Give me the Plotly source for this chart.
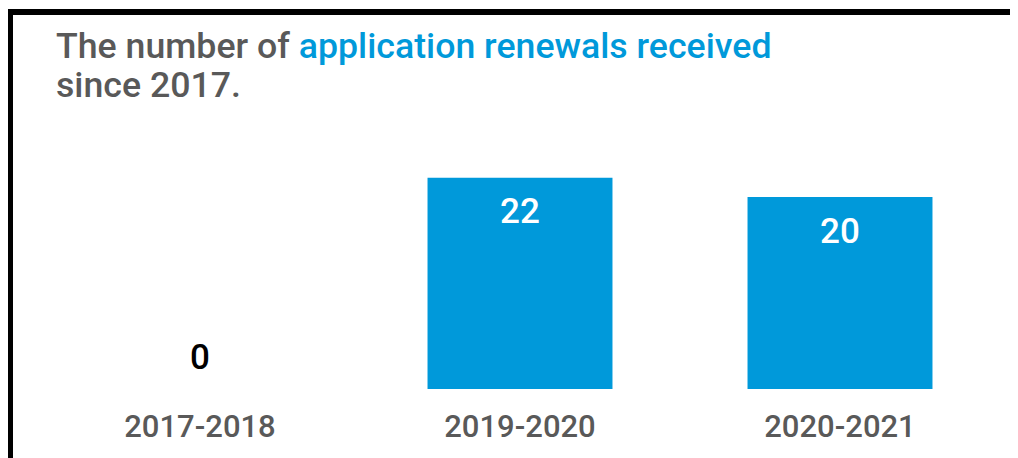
import plotly.graph_objects as go

categories = ["2017-2018", "2019-2020", "2020-2021"]
renewals = [0, 22, 20]
label_colors = ["#000000", "#FFFFFF", "#FFFFFF"]
label_shift = [32, -34, -34]

BLUE = "#0099DA"
GREY = "#595959"
FONT = "Roboto"

fig = go.Figure()
fig.add_trace(go.Bar(
    x=categories, y=renewals,
    marker=dict(color=BLUE, line=dict(width=0)),
    hoverinfo="skip",
))

for c, v, col, sh in zip(categories, renewals, label_colors, label_shift):
    fig.add_annotation(
        x=c, y=v, xref="x", yref="y", text=str(v), showarrow=False,
        yanchor="middle", yshift=sh,
        font=dict(family=FONT, size=35, color=col, weight=500),
    )

fig.add_annotation(
    xref="paper", yref="paper", x=0.0150, y=1.43, xanchor="left", yanchor="middle",
    text="The number of <span style='color:%s'>application renewals received</span>" % BLUE,
    showarrow=False, font=dict(family=FONT, size=35.7, color=GREY, weight=500),
)
fig.add_annotation(
    xref="paper", yref="paper", x=0.0150, y=1.265, xanchor="left", yanchor="middle",
    text="since 2017.",
    showarrow=False, font=dict(family=FONT, size=35.7, color=GREY, weight=500),
)

# frame lines
fig.add_shape(type="line", xref="paper", yref="paper", x0=-0.03125, x1=1.1, y0=1.571, y1=1.571,
              line=dict(color="black", width=6))
fig.add_shape(type="line", xref="paper", yref="paper", x0=-0.03125, x1=-0.03125, y0=1.583, y1=-0.4,
              line=dict(color="black", width=6))

fig.update_layout(
    width=1010, height=450,
    margin=dict(l=32, r=18, t=141, b=69),
    paper_bgcolor="white", plot_bgcolor="white",
    bargap=0.422, showlegend=False,
    xaxis=dict(showgrid=False, zeroline=False, showline=False, ticks="",
               tickfont=dict(family=FONT, size=31, color=GREY, weight=500),
               ticklabelstandoff=16),
    yaxis=dict(range=[0, 25], visible=False, showgrid=False, zeroline=False),
)

fig.write_html("out.html")
